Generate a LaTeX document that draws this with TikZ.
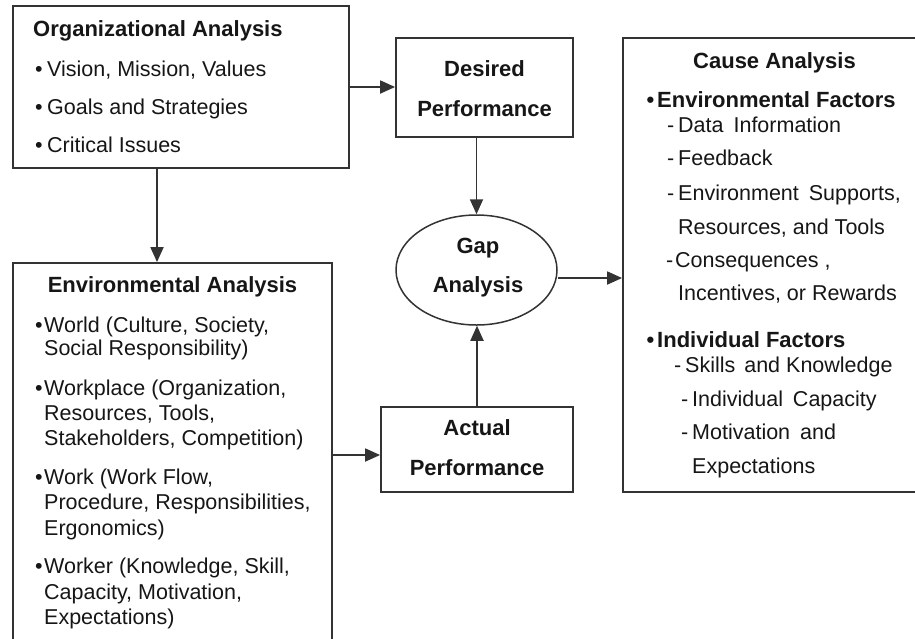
\documentclass[tikz,border=0pt]{standalone}
\usepackage{fontspec}
\setmainfont{Liberation Sans}
\usetikzlibrary{arrows.meta,shapes.geometric}
\definecolor{linec}{HTML}{333333}
\definecolor{txtc}{HTML}{161616}
\begin{document}
\begin{tikzpicture}[x=1pt,y=-1pt,
  box/.style={draw=linec,line width=1.8pt,inner sep=0pt},
  arr/.style={draw=linec,line width=1.8pt,-{Triangle[length=15pt,width=13pt]}},
  reg/.style={anchor=base west,inner sep=0pt,text=txtc,font=\fontsize{21.5}{25}\selectfont},
  hd/.style={inner sep=0pt,text=txtc,font=\fontsize{22}{26}\selectfont\bfseries},
  ctr/.style={hd,anchor=base},
  bhd/.style={hd,anchor=base west}
]
\useasboundingbox (0,0) rectangle (915,638);
\clip (0,0) rectangle (915,638);
\fill[white] (0,0) rectangle (915,638);

% boxes
\node[box,minimum width=336pt,minimum height=162pt] (org) at (181,87) {};
\node[box,minimum width=319pt,minimum height=407pt] (env) at (172.5,466.5) {};
\node[box,minimum width=177pt,minimum height=99pt] (des) at (484.5,87.5) {};
\node[box,minimum width=192pt,minimum height=85pt] (act) at (477,449.5) {};
\node[box,ellipse,line width=1.5pt,minimum width=161pt,minimum height=110pt] (gap) at (476.5,270) {};
\node[box,minimum width=312pt,minimum height=454pt] (cause) at (779,265) {};

% helper coordinates
\coordinate (ox) at (157,0);
\coordinate (ey) at (0,455);
\coordinate (gy) at (0,278);

% connectors
\draw[arr] (org.east) -- (org.east -| des.west);
\draw[arr] (org.south -| ox) -- (env.north -| ox);
\draw[arr] (des.south -| gap.north) -- (gap.north);
\draw[arr] (act.north) -- (act.north |- gap.south);
\draw[arr] (gap.east |- gy) -- (cause.west |- gy);
\draw[arr] (env.east |- ey) -- (act.west |- ey);

% Organizational Analysis
\node[bhd] (orgh) at (33,36) {Organizational Analysis};
\node[reg] (o1) at (47,76) {\llap{•\hspace{4.5pt}}Vision, Mission, Values};
\node[reg] (o2) at (47,114) {\llap{•\hspace{4.5pt}}Goals and Strategies};
\node[reg] (o3) at (47,152) {\llap{•\hspace{4.5pt}}Critical Issues};

% Environmental Analysis
\node[ctr] (envh) at (172.5,292) {Environmental Analysis};
\node[reg] (e1) at (44,332) {\llap{•\hspace{1.5pt}}World (Culture, Society,};
\node[reg] (e2) at (44,355) {Social Responsibility)};
\node[reg] (e3) at (44,395) {\llap{•\hspace{1.5pt}}Workplace (Organization,};
\node[reg] (e4) at (44,420) {Resources, Tools,};
\node[reg] (e5) at (44,445) {Stakeholders, Competition)};
\node[reg] (e6) at (44,484) {\llap{•\hspace{1.5pt}}Work (Work Flow,};
\node[reg] (e7) at (44,509) {Procedure, Responsibilities,};
\node[reg] (e8) at (44,535) {Ergonomics)};
\node[reg] (e9) at (44,573) {\llap{•\hspace{1.5pt}}Worker (Knowledge, Skill,};
\node[reg] (e10) at (44,599) {Capacity, Motivation,};
\node[reg] (e11) at (44,624) {Expectations)};

% middle column
\node[ctr] (d1) at (484.5,76) {Desired};
\node[ctr] (d2) at (484.5,116) {Performance};
\node[ctr] (g1) at (478,253) {Gap};
\node[ctr] (g2) at (478,292) {Analysis};
\node[ctr] (a1) at (477,435) {Actual};
\node[ctr] (a2) at (477,475) {Performance};

% Cause Analysis
\node[ctr] (ch) at (774.5,68) {Cause Analysis};
\node[bhd] (c1) at (657,107) {\llap{•\hspace{3pt}}Environmental Factors};
\node[reg] (c2) at (678,132) {\llap{-\hspace{4pt}}Data\hspace{4pt} Information};
\node[reg] (c3) at (678,165) {\llap{-\hspace{4pt}}Feedback};
\node[reg] (c4) at (678,200) {\llap{-\hspace{4pt}}Environment\hspace{4pt} Supports,};
\node[reg] (c5) at (678,234) {Resources, and Tools};
\node[reg] (c6) at (675,267) {\llap{-\hspace{2pt}}Consequences ,};
\node[reg] (c7) at (678,300) {Incentives, or Rewards};
\node[bhd] (c8) at (657,347) {\llap{•\hspace{3pt}}Individual Factors};
\node[reg] (c9) at (685,372) {\llap{-\hspace{4pt}}Skills\hspace{3pt} and Knowledge};
\node[reg] (c10) at (692,406) {\llap{-\hspace{4pt}}Individual\hspace{4pt} Capacity};
\node[reg] (c11) at (692,439) {\llap{-\hspace{4pt}}Motivation\hspace{4pt} and};
\node[reg] (c12) at (692,473) {Expectations};
\end{tikzpicture}
\end{document}
